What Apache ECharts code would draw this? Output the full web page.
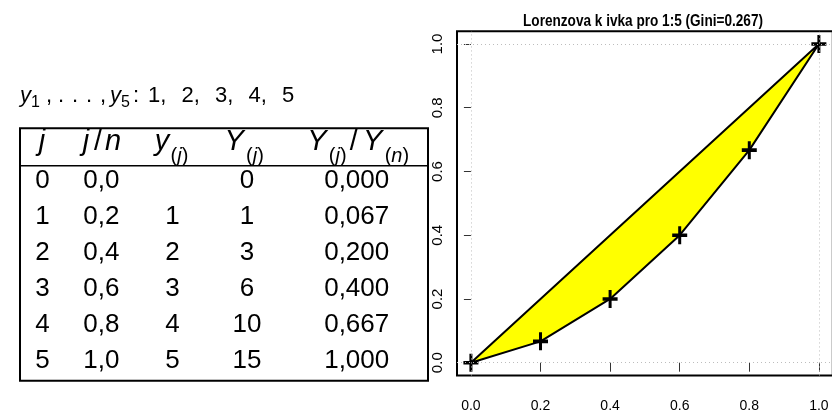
<!DOCTYPE html>
<html>
<head>
<meta charset="utf-8">
<script src="https://cdn.jsdelivr.net/npm/echarts@6/dist/echarts.min.js"></script>
<style>
  html, body { margin: 0; padding: 0; background: #fff; }
  #chart { width: 832px; height: 414px; }
</style>
</head>
<body>
<div id="chart"></div>
<script>
// Sample values y_1..y_5 and the Lorenz table derived from them
const values = [1, 2, 3, 4, 5];
const ranks = [0, 1, 2, 3, 4, 5];
const popShare = [0.0, 0.2, 0.4, 0.6, 0.8, 1.0];
const orderedValues = [null, 1, 2, 3, 4, 5];
const cumTotals = [0, 1, 3, 6, 10, 15];
const lorenzShare = [0.000, 0.067, 0.200, 0.400, 0.667, 1.000];
const axisTicks = [0.0, 0.2, 0.4, 0.6, 0.8, 1.0];
const gini = '0.267';
const titleText = 'Lorenzova k ivka pro 1:5 (Gini=' + gini + ')';

const SANS = '"Liberation Sans", Arial, Helvetica, sans-serif';

// ---- table on the left (drawn as graphic elements) ----
const colX = [42.5, 101.3, 172.5, 247, 356.7];
const firstRowY = 180.7;
const rowStep = 36.1;
const comma = (v, d) => v.toFixed(d).replace('.', ',');

const columns = [
  ranks.map(String),
  popShare.map(v => comma(v, 1)),
  orderedValues.map(v => (v == null ? '' : String(v))),
  cumTotals.map(String),
  lorenzShare.map(v => comma(v, 3))
];

const headers = [
  '{j|j}',
  '{j|j}{sl|/}{i|n}',
  '{y|y}{s|(}{si|j}{s|)}',
  '{Y|Y}{s|(}{si|j}{s|)}',
  '{Y|Y}{s|(}{si|j}{s|)}{sl|/}{Y|Y}{s|(}{si|n}{s|)}'
];
const headX = [42, 101, 171, 243, 357];

const mainTok = { fontFamily: SANS, fontStyle: 'italic', fontSize: 29, lineHeight: 32, verticalAlign: 'top' };
const subTok = { fontFamily: SANS, fontSize: 20, lineHeight: 22, padding: [18.9, 0, 0, 0], verticalAlign: 'top' };
const headRich = {
  i: mainTok,
  j: Object.assign({}, mainTok, { width: 10 }),
  y: Object.assign({}, mainTok, { width: 17 }),
  Y: Object.assign({}, mainTok, { width: 24 }),
  sl: { fontFamily: SANS, fontSize: 29, lineHeight: 32, padding: [0, 3, 0, 3], verticalAlign: 'top' },
  s: subTok,
  si: Object.assign({}, subTok, { fontStyle: 'italic' })
};

const n = values.length;
const topLine =
  '{v|y}{s1|1}{c|,}{d|.}{d|.}{d|.}{c2|,}{v|y}{s5|' + n + '}{k|:}' +
  values.map((v, i) => (i < n - 1 ? '{num|' + v + ',}' : '{last|' + v + '}')).join('');
const topTok = { fontFamily: SANS, fontSize: 22, lineHeight: 26, verticalAlign: 'top' };
const topSub = { fontFamily: SANS, fontSize: 16, lineHeight: 18, padding: [9.6, 0, 0, 0], verticalAlign: 'top' };
const topRich = {
  v: Object.assign({}, topTok, { fontStyle: 'italic' }),
  s1: Object.assign({}, topSub, { width: 15 }),
  s5: Object.assign({}, topSub, { width: 12 }),
  c: Object.assign({}, topTok, { width: 12 }),
  d: Object.assign({}, topTok, { width: 14 }),
  c2: Object.assign({}, topTok, { width: 10 }),
  k: Object.assign({}, topTok, { width: 15 }),
  num: Object.assign({}, topTok, { width: 33.5 }),
  last: topTok
};

const graphics = [];
graphics.push({
  type: 'text', x: 20, y: 85.3, silent: true,
  style: { text: topLine, rich: topRich, align: 'left', verticalAlign: 'top', fill: '#000' }
});
graphics.push({
  type: 'rect', silent: true,
  shape: { x: 20, y: 128.3, width: 408, height: 252.4 },
  style: { fill: 'none', stroke: '#000', lineWidth: 2 }
});
graphics.push({
  type: 'line', silent: true,
  shape: { x1: 20, y1: 165.7, x2: 428, y2: 165.7 },
  style: { stroke: '#000', lineWidth: 1.6 }
});
headers.forEach((h, c) => {
  graphics.push({
    type: 'text', x: headX[c], y: 127.1, silent: true,
    style: { text: h, rich: headRich, align: 'center', verticalAlign: 'top', fill: '#000' }
  });
});
columns.forEach((col, c) => {
  col.forEach((txt, r) => {
    graphics.push({
      type: 'text', x: colX[c], y: firstRowY + r * rowStep, silent: true,
      style: { text: txt, fontFamily: SANS, fontSize: 26, fill: '#000', align: 'center', verticalAlign: 'middle' }
    });
  });
});

// plot title, bold and condensed
graphics.push({
  type: 'text', x: 643, y: 21.3, scaleX: 0.8, silent: true,
  style: { text: titleText, fontFamily: SANS, fontWeight: 'bold', fontSize: 17, fill: '#000', align: 'center', verticalAlign: 'middle' }
});

// ---- Lorenz curve plot ----
const points = popShare.map((x, i) => [x, lorenzShare[i]]);
const PLUS = 'path://M8,0H12V8H20V12H12V20H8V12H0V8H8Z';

const chart = echarts.init(document.getElementById('chart'), null, { renderer: 'canvas' });
chart.setOption({
  animation: false,
  backgroundColor: '#fff',
  grid: {
    left: 457, top: 31.25, width: 375.8, height: 344.2,
    show: true, borderColor: '#000', borderWidth: 2, backgroundColor: 'transparent',
    outerBoundsMode: 'none', containLabel: false
  },
  xAxis: {
    type: 'value', min: -0.04, max: 1.04,
    axisLine: { show: false }, splitLine: { show: false },
    axisTick: { show: true, customValues: axisTicks, length: 9, lineStyle: { color: '#333', width: 1 } },
    axisLabel: {
      customValues: axisTicks, margin: 24, formatter: v => v.toFixed(1),
      fontFamily: SANS, fontSize: 14, color: '#000'
    }
  },
  yAxis: {
    type: 'value', min: -0.04, max: 1.04,
    axisLine: { show: false }, splitLine: { show: false },
    axisTick: { show: true, customValues: axisTicks, length: 7, lineStyle: { color: '#333', width: 1 } },
    axisLabel: {
      customValues: axisTicks, rotate: 90, margin: 12, formatter: v => v.toFixed(1),
      fontFamily: SANS, fontSize: 15, color: '#000'
    }
  },
  series: [
    {
      type: 'line', data: [], silent: true, z: 1,
      markLine: {
        silent: true, symbol: ['none', 'none'], label: { show: false },
        lineStyle: { type: [1, 3], color: '#bdbdbd', width: 1 },
        data: [{ xAxis: 0 }, { xAxis: 1 }, { yAxis: 0 }, { yAxis: 1 }]
      }
    },
    {
      type: 'custom', z: 2, silent: true, data: points,
      renderItem: (params, api) => {
        if (params.dataIndex !== 0) return null;
        const pts = popShare.map((x, i) => api.coord([x, lorenzShare[i]]));
        return {
          type: 'polygon',
          shape: { points: pts },
          style: { fill: '#ffff00', stroke: '#000', lineWidth: 2, lineJoin: 'round' }
        };
      }
    },
    {
      type: 'scatter', z: 3, silent: true, data: points,
      symbol: PLUS, symbolSize: [15, 18], itemStyle: { color: '#000', opacity: 1 }
    }
  ],
  graphic: graphics
});
</script>
</body>
</html>
